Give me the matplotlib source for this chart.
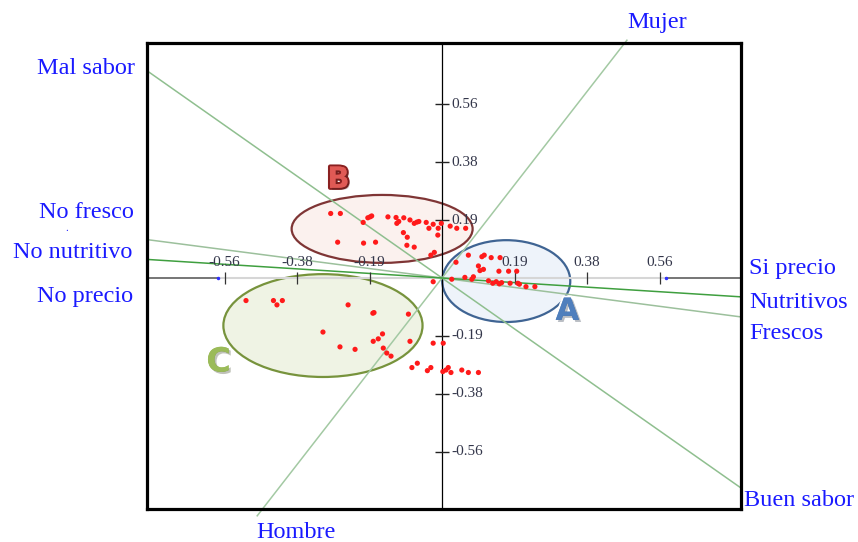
import numpy as np
import matplotlib
matplotlib.use("Agg")
import matplotlib.pyplot as plt
from matplotlib.patches import Ellipse
import matplotlib.patheffects as pe

plt.rcParams['font.family'] = ['Liberation Serif', 'DejaVu Serif']

# Variable vectors (endpoints, the opposite end is the negative one)
var_pos = ['Buen sabor', 'Mujer', 'Frescos', 'Nutritivos', 'Si precio']
var_neg = ['Mal sabor', 'Hombre', 'No fresco', 'No nutritivo', 'No precio']
var_x = [0.773, 0.478, 0.773, 0.773, 0.773]
var_y = [-0.680, 0.770, -0.126, -0.061, 0.0]

# Observations, by group
b_x = [-0.288, -0.263, -0.204, -0.192, -0.186, -0.182, -0.140, -0.119, -0.117, -0.112,
       -0.099, -0.083, -0.072, -0.065, -0.060, -0.041, -0.034, -0.023, -0.010, -0.002,
       0.021, 0.038, 0.061, -0.270, -0.203, -0.172, -0.100, -0.090, -0.091, -0.072,
       -0.029, -0.020, -0.011]
b_y = [0.209, 0.209, 0.180, 0.195, 0.198, 0.201, 0.198, 0.196, 0.177, 0.183,
       0.195, 0.188, 0.177, 0.181, 0.183, 0.180, 0.161, 0.174, 0.161, 0.177,
       0.168, 0.161, 0.161, 0.116, 0.113, 0.116, 0.147, 0.132, 0.106, 0.100,
       0.074, 0.083, 0.139]

a_x = [-0.023, 0.036, 0.068, 0.103, 0.109, 0.127, 0.150, 0.094, 0.098, 0.107,
       0.147, 0.172, 0.193, 0.025, 0.059, 0.077, 0.081, 0.120, 0.131, 0.140,
       0.148, 0.154, 0.176, 0.196, 0.200, 0.217, 0.240]
a_y = [-0.012, 0.051, 0.074, 0.069, 0.074, 0.066, 0.066, 0.039, 0.024, 0.028,
       0.022, 0.022, 0.022, -0.004, 0.002, -0.004, 0.004, -0.009, -0.017, -0.012,
       -0.019, -0.015, -0.017, -0.017, -0.020, -0.028, -0.028]

c_x = [-0.507, -0.436, -0.427, -0.413, -0.243, -0.179, -0.176, -0.087, -0.308, -0.154,
       -0.165, -0.178, -0.083, -0.264, -0.225, -0.152, -0.143, -0.132]
c_y = [-0.073, -0.073, -0.087, -0.073, -0.087, -0.114, -0.112, -0.117, -0.175, -0.181,
       -0.197, -0.205, -0.205, -0.223, -0.231, -0.227, -0.243, -0.253]

low_x = [-0.023, 0.003, -0.078, -0.064, -0.038, -0.029, 0.002, 0.010, 0.016, 0.023,
         0.051, 0.068, 0.094]
low_y = [-0.211, -0.211, -0.290, -0.276, -0.300, -0.290, -0.303, -0.298, -0.290, -0.306,
         -0.298, -0.306, -0.306]

# Group ellipses: label, center, width, height
groups = ['B', 'A', 'C']
ell_cx = [-0.155, 0.166, -0.308]
ell_cy = [0.159, -0.010, -0.154]
ell_w = [0.468, 0.331, 0.515]
ell_h = [0.220, 0.265, 0.333]

ticks = [-0.5625, -0.375, -0.1875, 0.1875, 0.375, 0.5625]
tick_labels = ['-0.56', '-0.38', '-0.19', '0.19', '0.38', '0.56']

fig = plt.figure(figsize=(8.58, 5.42), dpi=100)
ax = fig.add_axes([147 / 858, 33 / 542, 594 / 858, 466 / 542])
ax.set_xlim(-0.763, 0.773)
ax.set_ylim(-0.748, 0.761)
ax.set_xticks([])
ax.set_yticks([])
for s in ax.spines.values():
    s.set_linewidth(2.3)
    s.set_color('black')
    s.set_zorder(10)

# ellipses
ell_edge = ['#7f3535', '#3f6493', '#77933c']
ell_face = ['#fbf1ee', '#eef3fa', '#eff3e4']
for i in range(len(groups)):
    ax.add_patch(Ellipse((ell_cx[i], ell_cy[i]), ell_w[i], ell_h[i],
                         facecolor=ell_face[i], edgecolor=ell_edge[i], lw=1.6, zorder=1))

# axes through origin
ax.axvline(0, color='black', lw=0.9, zorder=2)
ax.plot([-0.58, 0.58], [0, 0], color='#d6d6d6', lw=1.5, zorder=2)
ax.plot([-0.763, -0.58], [0, 0], color='#6a6a6a', lw=1.3, zorder=2)
ax.plot([0.58, 0.773], [0, 0], color='#6a6a6a', lw=1.3, zorder=2)
ax.plot([-0.58, 0.58], [0, 0], 'o', color='#3030ff', ms=1.5, zorder=3)
ax.plot(ticks, [0] * len(ticks), '|', color='#333333', ms=9, mew=0.9, zorder=3)
ax.plot([0] * len(ticks), ticks, '_', color='#222222', ms=10, mew=1.0, zorder=3)
for t, lab in zip(ticks, tick_labels):
    ax.annotate(lab, (t, 0), xytext=(0, 11), textcoords='offset points',
                ha='center', va='center', fontsize=11, color='#33364a', zorder=4)
    ax.annotate(lab, (0, t), xytext=(7, 0), textcoords='offset points',
                ha='left', va='center', fontsize=11, color='#33364a', zorder=4)

# variable lines (only Mujer/Hombre runs past the frame)
line_cols = ['#8fbf8f', '#a3c9a3', '#9cc09c', '#3f9f3f', '#6a6a6a']
for i in range(len(var_pos)):
    if var_pos[i] == 'Si precio':
        continue
    ax.plot([-var_x[i], var_x[i]], [-var_y[i], var_y[i]], color=line_cols[i],
            lw=1.1, zorder=2, clip_on=(var_pos[i] != 'Mujer'))

# variable labels (offsets in points)
pos_off = [(2, -9), (0, 13), (6, -12), (6, -4), (6, 7)]
neg_off = [(-6, 0), (-1, -12), (-7, 19), (-8, 5), (-7, -13)]
neg_ha = ['right', 'left', 'right', 'right', 'right']
for i in range(len(var_pos)):
    ax.annotate(var_pos[i], (var_x[i], var_y[i]), xytext=pos_off[i], textcoords='offset points',
                ha='left', va='center', fontsize=17.5, color='#1a1aff', annotation_clip=False)
    ax.annotate(var_neg[i], (-var_x[i], -var_y[i]), xytext=neg_off[i], textcoords='offset points',
                ha=neg_ha[i], va='center', fontsize=17.5, color='#1a1aff', annotation_clip=False)
fig.text(67 / 858, 1 - 229 / 542, '.', fontsize=8, color='#1a1aff', ha='center', va='center')

# observations
pts_x = b_x + a_x + c_x + low_x
pts_y = b_y + a_y + c_y + low_y
ax.scatter(pts_x, pts_y, s=14, color='#ff1a1a', edgecolors='none', zorder=5)

# group letters
let_face = ['#e05a55', '#4f7fbd', '#9bbb59']
let_edge = ['#8a2020', '#ffffff', '#ffffff']
let_xy = [(-0.268, 0.318), (0.324, -0.108), (-0.578, -0.272)]
let_size = [21, 22, 24]
for i in range(len(groups)):
    ax.text(let_xy[i][0], let_xy[i][1], groups[i], family='DejaVu Sans', fontweight='bold',
            fontsize=let_size[i], color=let_face[i], ha='center', va='center', zorder=6,
            path_effects=[pe.withStroke(linewidth=3, foreground=let_edge[i]),
                          pe.SimplePatchShadow(offset=(1.5, -1.5), alpha=0.3), pe.Normal()])

fig.savefig('out.png', dpi=100)
